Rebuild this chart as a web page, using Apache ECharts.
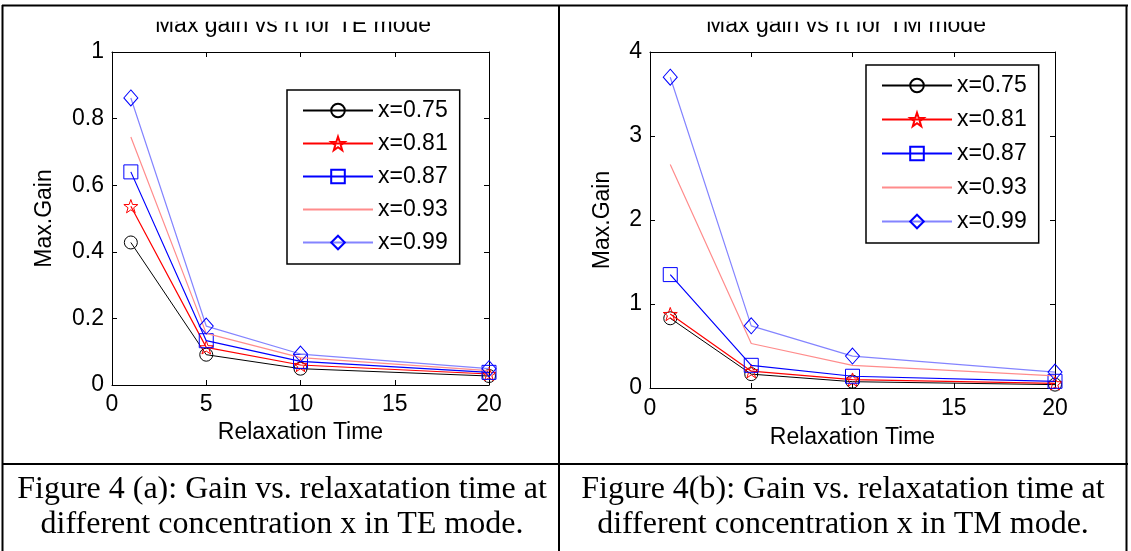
<!DOCTYPE html>
<html>
<head>
<meta charset="utf-8">
<script src="https://cdn.jsdelivr.net/npm/echarts@6/dist/echarts.min.js"></script>
<style>
html,body{margin:0;padding:0;background:#fff;}
#c{width:1131px;height:551px;}
</style>
</head>
<body>
<div id="c"></div>
<script>
// ---- data ----
const times = [1, 5, 10, 20];
const seriesNames = ['x=0.75', 'x=0.81', 'x=0.87', 'x=0.93', 'x=0.99'];
// TE mode (Figure 4a)
const te075 = [0.428, 0.091, 0.049, 0.027];
const te081 = [0.537, 0.113, 0.060, 0.033];
const te087 = [0.640, 0.133, 0.071, 0.038];
const te093 = [0.745, 0.155, 0.082, 0.043];
const te099 = [0.862, 0.177, 0.093, 0.049];
// TM mode (Figure 4b)
const tm075 = [0.83, 0.165, 0.075, 0.040];
const tm081 = [0.88, 0.200, 0.100, 0.055];
const tm087 = [1.35, 0.270, 0.140, 0.080];
const tm093 = [2.66, 0.530, 0.270, 0.145];
const tm099 = [3.70, 0.740, 0.380, 0.190];
// tick labels
const xTicks = ['0', '5', '10', '15', '20'];
const teYTicks = ['0', '0.2', '0.4', '0.6', '0.8', '1'];
const tmYTicks = ['0', '1', '2', '3', '4'];
// texts
const titleTE = 'Max gain vs rt for TE mode';
const titleTM = 'Max gain vs rt for TM mode';
const xName = 'Relaxation Time';
const yName = 'Max.Gain';
const capA1 = 'Figure 4 (a): Gain vs. relaxatation time at';
const capA2 = 'different concentration x in TE mode.';
const capB1 = 'Figure 4(b): Gain vs. relaxatation time at';
const capB2 = 'different concentration x in TM mode.';

const STAR = 'path://M0,-10L2.35,-3.24L9.51,-3.09L3.8,1.24L5.88,8.09L0,4L-5.88,8.09L-3.8,1.24L-9.51,-3.09L-2.35,-3.24Z';
const CLEAR = 'rgba(255,255,255,0)';
const styles = [
  {line:'#000000', mark:'#000000', width:1, symbol:'circle', size:13, show:true},
  {line:'#ff0000', mark:'#ff0000', width:1.2, symbol:STAR, size:14, show:true},
  {line:'#0000ff', mark:'#0000ff', width:1.2, symbol:'rect', size:14, show:true},
  {line:'#ff8c8c', mark:CLEAR, width:1.2, symbol:'circle', size:1, show:false},
  {line:'#8484ff', mark:'#0000ff', width:1.2, symbol:'diamond', size:[14,16], show:true}
];
const FONT = 'Liberation Sans';
const FS = 23;

function mkSeries(vals, k, idx) {
  const s = styles[k];
  return {
    type:'line', name: seriesNames[k], xAxisIndex: idx*2, yAxisIndex: idx*2,
    data: times.map((t,i)=>[t, vals[i]]),
    symbol: s.symbol, symbolSize: s.size, symbolKeepAspect: true, showSymbol: s.show,
    itemStyle: {color: CLEAR, borderColor: s.mark, borderWidth: 1},
    lineStyle: {color: s.line, width: s.width},
    emphasis: {disabled: true}, silent: true, z: 2 + k
  };
}

function axesFor(idx, ymax, yint, yTicks, xNameGap, yNameGap, xMargin) {
  const lbl = {fontFamily: FONT, fontSize: FS, color:'#000'};
  const common = {splitLine:{show:false}, axisLine:{show:true, onZero:false, lineStyle:{color:'#000', width:1}},
    axisTick:{show:true, inside:true, length:5, lineStyle:{color:'#000'}}};
  const xs = [
    Object.assign({type:'value', gridIndex: idx, min:0, max:20, interval:5, position:'bottom',
      name: xName, nameLocation:'middle', nameGap: xNameGap, nameTextStyle: lbl,
      axisLabel: Object.assign({margin: xMargin, formatter: v => xTicks[Math.round(v/5)]}, lbl)}, common),
    Object.assign({type:'value', gridIndex: idx, min:0, max:20, interval:5, position:'top', axisLabel:{show:false}}, common)
  ];
  const ys = [
    Object.assign({type:'value', gridIndex: idx, min:0, max:ymax, interval:yint, position:'left',
      name: yName, nameLocation:'middle', nameGap: yNameGap, nameTextStyle: lbl,
      axisLabel: Object.assign({margin: 8, formatter: v => yTicks[Math.round(v/yint)]}, lbl)}, common),
    Object.assign({type:'value', gridIndex: idx, min:0, max:ymax, interval:yint, position:'right', axisLabel:{show:false}}, common)
  ];
  return {xs, ys};
}

const A = axesFor(0, 1, 0.2, teYTicks, 36, 56, 8);
const B = axesFor(1, 4, 1, tmYTicks, 38, 36, 9);

const series = [
  mkSeries(te075,0,0), mkSeries(te081,1,0), mkSeries(te087,2,0), mkSeries(te093,3,0), mkSeries(te099,4,0),
  mkSeries(tm075,0,1), mkSeries(tm081,1,1), mkSeries(tm087,2,1), mkSeries(tm093,3,1), mkSeries(tm099,4,1)
];

const legendText = {fontFamily: FONT, fontSize: FS, color:'#000', lineHeight: 22};
const legendBase = {orient:'vertical', itemWidth:70, itemHeight:17, borderColor:'#000', borderWidth:1.5,
  backgroundColor:'#fff', textStyle: legendText, data: seriesNames, selectedMode:false, z: 20};

function line(x1,y1,x2,y2){ return {type:'line', z:200, silent:true, shape:{x1,y1,x2,y2}, style:{stroke:'#000', lineWidth:2}}; }
function txt(t, x, y, font, align){ return {type:'text', z:150, silent:true, x, y,
  style:{text:t, font, fill:'#000', align: align||'center', verticalAlign:'middle'}}; }

const chart = echarts.init(document.getElementById('c'), null, {renderer:'canvas'});
chart.setOption({
  animation:false,
  backgroundColor:'#fff',
  grid:[
    {left:112, top:52, width:377, height:333, show:false},
    {left:650, top:52, width:405, height:336, show:false}
  ],
  xAxis:[A.xs[0], A.xs[1], B.xs[0], B.xs[1]],
  yAxis:[A.ys[0], A.ys[1], B.ys[0], B.ys[1]],
  legend:[
    Object.assign({left:287, top:90, itemGap:10, padding:[9,12,10,15]}, legendBase),
    Object.assign({left:866, top:65, itemGap:11, padding:[9,12,10,15]}, legendBase)
  ],
  series: series,
  graphic:[
    txt(titleTE, 293, 26, FS + 'px "Liberation Sans"'),
    txt(titleTM, 846, 26, FS + 'px "Liberation Sans"'),
    {type:'rect', z:180, silent:true, shape:{x:4, y:6, width:1121, height:15.7}, style:{fill:'#fff'}},
    txt(capA1, 282, 490, '32px "Liberation Serif"'),
    txt(capA2, 282, 525, '32px "Liberation Serif"'),
    txt(capB1, 843, 490, '32px "Liberation Serif"'),
    txt(capB2, 843, 525, '32px "Liberation Serif"'),
    line(2, 5.5, 1128, 5.5),
    line(2.5, 5, 2.5, 551),
    line(559, 5, 559, 551),
    line(1126.5, 5, 1126.5, 551),
    line(2, 464, 1128, 464)
  ]
});
</script>
</body>
</html>
